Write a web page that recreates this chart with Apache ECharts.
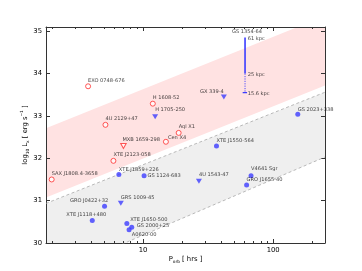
<!DOCTYPE html>
<html>
<head>
<meta charset="utf-8">
<script src="https://cdn.jsdelivr.net/npm/echarts@6/dist/echarts.min.js"></script>
<style>html,body{margin:0;padding:0;background:#fff;}#c{width:362px;height:271px;}</style>
</head>
<body>
<div id="c"></div>
<script>
// ---- data (P_orb in hours, log10 Lx in erg/s) ----
const nsNames = ['EXO 0748-676','H 1608-52','4U 2129+47','Aql X1','Cen X4','XTE J2123-058','SAX J1808.4-3658'];
const nsPorb  = [3.79, 11.9, 5.15, 18.8, 15.0, 5.93, 1.99];
const nsLogL  = [33.70, 33.29, 32.79, 32.60, 32.39, 31.94, 31.50];

const nsUlNames = ['MXB 1659-298'];
const nsUlPorb  = [7.08];
const nsUlLogL  = [32.29];

const bhNames = ['GS 2023+338','XTE J1550-564','XTE J1859+226','GS 1124-683','GRO J0422+32','XTE J1118+480','XTE J1650-500','GS 2000+25','A0620-00','V4641 Sgr','GRO J1655-40'];
const bhPorb  = [154.5, 36.7, 6.53, 10.2, 5.07, 4.08, 7.52, 8.2, 7.82, 67.6, 62.5];
const bhLogL  = [33.04, 32.29, 31.62, 31.59, 30.87, 30.53, 30.46, 30.37, 30.31, 31.59, 31.37];

const bhUlNames = ['H 1705-250','GX 339-4','GRS 1009-45','4U 1543-47'];
const bhUlPorb  = [12.4, 41.8, 6.76, 26.9];
const bhUlLogL  = [32.98, 33.45, 30.94, 31.46];

const gsName = 'GS 1354-64';
const gsPorb = 60.8;
const gsLogL = [34.85, 34.0, 33.55];         // 61 kpc, 25 kpc, 15.6 kpc
const gsDistLabels = ['61 kpc', '25 kpc', '15.6 kpc'];
const gsTickP = [58.3, 63.0];

// band boundaries [P, logL]
const pinkUpper = [[1.8, 32.71], [250, 35.36]];
const pinkLower = [[1.8, 31.075], [250, 33.72]];
const grayUpper = [[1.8, 30.935], [250, 33.56]];
const grayLower = [[1.8, 29.2], [250, 32.03]];

const xMajorTicks = [10, 100];
const xMinorTicks = [2,3,4,5,6,7,8,9,20,30,40,50,60,70,80,90,200];

// ---- label placement (px offsets, alignment) ----
const labelPlace = {
  'EXO 0748-676':[0,-6,'left'], 'H 1608-52':[0,-6,'left'], '4U 2129+47':[0,-6.4,'left'],
  'Aql X1':[0,-6,'left'], 'Cen X4':[2,-4.5,'left'], 'MXB 1659-298':[-1,-6,'left'],
  'XTE J2123-058':[0,-5.7,'left'], 'SAX J1808.4-3658':[0,-5.6,'left'],
  'H 1705-250':[0,-7,'left'], 'GX 339-4':[0,-5.7,'right'], 'GS 2023+338':[0,-4.6,'left'],
  'XTE J1550-564':[0,-5.7,'left'], '4U 1543-47':[0,-6,'left'], 'V4641 Sgr':[0,-6.7,'left'],
  'GRO J1655-40':[0,-5,'left'], 'XTE J1859+226':[0,-5,'left'], 'GS 1124-683':[3.4,0,'left'],
  'GRO J0422+32':[3.7,-5.3,'right'], 'XTE J1118+480':[-6,-5.7,'center'], 'GRS 1009-45':[0,-5.6,'left'],
  'XTE J1650-500':[3.3,-4.3,'left'], 'GS 2000+25':[5,-1.6,'left'], 'A0620-00':[2.7,5.3,'left']
};

const RED = '#ff2d2d', BLUE = '#3c3cff', AX = '#333';
const labelFont = {fontFamily:'DejaVu Sans', fontSize:5.1, color:'#111'};

function items(names, P, L) {
  return names.map((n, i) => {
    const pl = labelPlace[n] || [0,-6,'left'];
    return {name:n, value:[P[i], L[i]],
      label:{show:true, position:'inside', formatter:n, offset:[pl[0], pl[1]], align:pl[2], verticalAlign:'middle',
             ...labelFont, textBorderWidth:0}};
  });
}

const yMin = 30, yMax = 35.1, xMin = 1.8, xMax = 250;

const chart = echarts.init(document.getElementById('c'), null, {renderer:'canvas'});
const axisLineStyle = {color:AX, width:1};

chart.setOption({
  animation:false,
  backgroundColor:'#fff',
  grid:{left:46, right:37, top:27, bottom:28, containLabel:false},
  xAxis:[
    {type:'log', logBase:10, min:xMin, max:xMax, position:'bottom',
     axisLine:{show:true, onZero:false, lineStyle:axisLineStyle},
     axisTick:{show:true, inside:true, length:4, lineStyle:{color:AX, width:1}},
     axisLabel:{show:true, margin:4, fontFamily:'DejaVu Sans', fontSize:6.8, color:'#000',
       showMinLabel:false, showMaxLabel:false,
       formatter:v => (xMajorTicks.some(t => Math.abs(t - v) < 1e-6) ? String(Math.round(v)) : '')},
     splitLine:{show:false},
     name:'{a|P}{b|orb}{a| [ hrs ]}', nameLocation:'middle', nameGap:12, nameMoveOverlap:false,
     nameTextStyle:{rich:{a:{fontFamily:'DejaVu Sans', fontSize:6.8, color:'#000', lineHeight:9},
                          b:{fontFamily:'DejaVu Sans', fontSize:4.3, color:'#000', verticalAlign:'bottom', lineHeight:9, padding:[3,0,0,0]}}}
    },
    {type:'log', logBase:10, min:xMin, max:xMax, position:'top',
     axisLine:{show:true, onZero:false, lineStyle:axisLineStyle},
     axisTick:{show:true, inside:true, length:4, lineStyle:{color:AX, width:1}},
     axisLabel:{show:false}, splitLine:{show:false}}
  ],
  yAxis:[
    {type:'value', min:yMin, max:yMax, interval:1, position:'left',
     axisLine:{show:true, onZero:false, lineStyle:axisLineStyle},
     axisTick:{show:true, inside:true, length:4, lineStyle:{color:AX, width:1}},
     axisLabel:{show:true, margin:4, fontFamily:'DejaVu Sans', fontSize:6.8, color:'#000', showMaxLabel:false,
       formatter:v => (Math.abs(v - Math.round(v)) < 1e-6 ? String(Math.round(v)) : '')},
     splitLine:{show:false},
     name:'{a|log}{b|10}{a| L}{b|x}{a| [ erg s}{c|−1}{a| ]}', nameLocation:'middle', nameGap:16, nameMoveOverlap:false,
     nameTextStyle:{rich:{a:{fontFamily:'DejaVu Sans', fontSize:6.8, color:'#000', lineHeight:10},
                          b:{fontFamily:'DejaVu Sans', fontSize:4.3, color:'#000', verticalAlign:'bottom', lineHeight:10},
                          c:{fontFamily:'DejaVu Sans', fontSize:4.3, color:'#000', verticalAlign:'top', lineHeight:10}}}
    },
    {type:'value', min:yMin, max:yMax, interval:1, position:'right',
     axisLine:{show:true, onZero:false, lineStyle:axisLineStyle},
     axisTick:{show:true, inside:true, length:4, lineStyle:{color:AX, width:1}},
     axisLabel:{show:false}, splitLine:{show:false}}
  ],
  series:[
    { // bands
      type:'custom', xAxisIndex:0, yAxisIndex:0, clip:true, silent:true, z:0,
      data:[[xMin, yMin]],
      renderItem:(params, api) => {
        const poly = (up, lo) => up.map(p => api.coord(p)).concat(lo.slice().reverse().map(p => api.coord(p)));
        return {type:'group', children:[
          {type:'polygon', shape:{points:poly(pinkUpper, pinkLower)}, style:{fill:'#ffe2e2'}},
          {type:'polygon', shape:{points:poly(grayUpper, grayLower)}, style:{fill:'#efefef'}}
        ]};
      }
    },
    {type:'line', xAxisIndex:0, yAxisIndex:0, data:grayUpper, symbol:'none', silent:true, z:1,
     lineStyle:{color:'#a8a8a8', width:0.8, type:[3,2.5]}},
    {type:'line', xAxisIndex:0, yAxisIndex:0, data:grayLower, symbol:'none', silent:true, z:1,
     lineStyle:{color:'#a8a8a8', width:0.8, type:[3,2.5]}},
    { // minor ticks
      type:'custom', xAxisIndex:0, yAxisIndex:0, silent:true, z:5,
      data:xMinorTicks.map(v => [v]), encode:{x:0},
      renderItem:(params, api) => {
        const cs = params.coordSys;
        const x = Math.round(api.coord([api.value(0), yMin])[0]) + 0.5;
        const st = {stroke:AX, lineWidth:1};
        return {type:'group', children:[
          {type:'line', shape:{x1:x, y1:cs.y + cs.height, x2:x, y2:cs.y + cs.height - 2}, style:st},
          {type:'line', shape:{x1:x, y1:cs.y, x2:x, y2:cs.y + 2}, style:st}
        ]};
      }
    },
    // GS 1354-64 distance range
    {type:'line', xAxisIndex:0, yAxisIndex:0, data:[[gsPorb, gsLogL[0]], [gsPorb, gsLogL[1]]], symbol:'none', silent:true, z:3,
     lineStyle:{color:BLUE, width:1.6}},
    {type:'line', xAxisIndex:0, yAxisIndex:0, data:[[gsPorb, gsLogL[1]], [gsPorb, gsLogL[2]]], symbol:'none', silent:true, z:3,
     lineStyle:{color:BLUE, width:0.9, type:[1.2,1.2]}},
    {type:'line', xAxisIndex:0, yAxisIndex:0, data:[[gsTickP[0], gsLogL[2]], [gsTickP[1], gsLogL[2]]], symbol:'none', silent:true, z:3,
     lineStyle:{color:BLUE, width:1.3}},
    {type:'scatter', xAxisIndex:0, yAxisIndex:0, symbolSize:0, silent:true, z:4,
     data:[
       {value:[gsPorb, gsLogL[0]], label:{show:true, position:'inside', formatter:gsName, offset:[2,-6.3], align:'center', verticalAlign:'middle', ...labelFont}},
       ...gsDistLabels.map((t, i) => ({value:[gsPorb, gsLogL[i]],
         label:{show:true, position:'inside', formatter:t, offset:[2.6, i === 1 ? 1.3 : 0.7], align:'left', verticalAlign:'middle', ...labelFont}}))
     ]},
    // NS detections: red open circles
    {type:'scatter', xAxisIndex:0, yAxisIndex:0, symbol:'circle', symbolSize:5, z:4,
     itemStyle:{color:'#fff', borderColor:RED, borderWidth:1},
     data:items(nsNames, nsPorb, nsLogL)},
    // NS upper limit: red open triangle
    {type:'scatter', xAxisIndex:0, yAxisIndex:0, symbol:'triangle', symbolSize:[5.5,5], symbolRotate:180, z:4,
     itemStyle:{color:'#fff', borderColor:RED, borderWidth:1},
     data:items(nsUlNames, nsUlPorb, nsUlLogL)},
    // BH detections: blue filled circles
    {type:'scatter', xAxisIndex:0, yAxisIndex:0, symbol:'circle', symbolSize:5, z:4,
     itemStyle:{color:BLUE},
     data:items(bhNames, bhPorb, bhLogL)},
    // BH upper limits: blue filled triangles
    {type:'scatter', xAxisIndex:0, yAxisIndex:0, symbol:'triangle', symbolSize:[6,5], symbolRotate:180, z:4,
     itemStyle:{color:BLUE},
     data:items(bhUlNames, bhUlPorb, bhUlLogL)}
  ]
});
</script>
</body>
</html>
